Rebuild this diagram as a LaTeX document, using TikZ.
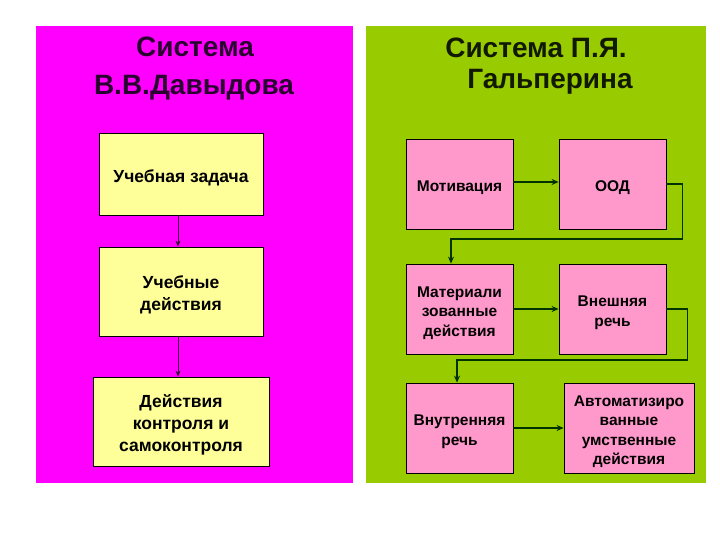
\documentclass[tikz,border=0pt]{standalone}
\usepackage{fontspec}
\setmainfont{Liberation Sans}
\usetikzlibrary{arrows.meta}
\definecolor{magbg}{HTML}{FF00FF}
\definecolor{grnbg}{HTML}{99CC00}
\definecolor{ylw}{HTML}{FFFF99}
\definecolor{pnk}{HTML}{FF99CC}
\definecolor{ttlL}{HTML}{2A0030}
\definecolor{ttlR}{HTML}{111A00}
\definecolor{arrL}{HTML}{330033}
\definecolor{arrR}{HTML}{003300}
\newcommand\tsL{\rule{0pt}{22pt}}
\newcommand\bsL{\rule[-5.4pt]{0pt}{5.4pt}}
\newcommand\tsR{\rule{0pt}{20pt}}
\newcommand\bsR{\rule[-5pt]{0pt}{5pt}}
\tikzset{
  ttl/.style={font=\bfseries\fontsize{28}{32}\selectfont, inner sep=0pt, anchor=center},
  ybox/.style={draw=black, line width=0.8pt, fill=ylw, align=center, inner sep=0pt,
    font=\bfseries\fontsize{17.5}{22}\selectfont},
  pbox/.style={draw=black, line width=0.8pt, fill=pnk, align=center, inner sep=0pt,
    minimum width=107pt, minimum height=90pt, font=\bfseries\fontsize{15.5}{19.5}\selectfont},
  larr/.style={draw=arrL, line width=0.7pt, -{Stealth[length=6pt,width=5pt]}},
  rarr/.style={draw=arrR, line width=1.6pt, -{Stealth[length=7pt,width=6pt]}}
}
\begin{document}
\begin{tikzpicture}[x=1pt,y=-1pt]
\useasboundingbox (0,0) rectangle (720,540);
\fill[white] (0,0) rectangle (720,540);
% panels
\fill[magbg] (36,26) rectangle (353,483);
\fill[grnbg] (366,26) rectangle (706,483);
% titles
\node[ttl, text=ttlL] (tl1) at (195,47) {Система};
\node[ttl, text=ttlL] (tl2) at (194,88) {В.В.Давыдова};
\node[ttl, text=ttlR] (tr1) at (536,48) {Система П.Я.};
\node[ttl, text=ttlR] (tr2) at (550,82) {Гальперина};
% left boxes
\node[ybox, minimum width=164pt, minimum height=82pt] (b1) at (181,174) {\tsL Учебная задача\bsL};
\node[ybox, minimum width=164pt, minimum height=89pt] (b2) at (181,291.5) {\tsL Учебные\\действия\bsL};
\node[ybox, minimum width=176pt, minimum height=89pt] (b3) at (181,421.5) {\tsL Действия\\контроля и\\самоконтроля\bsL};
\draw[larr] ([xshift=-3pt]b1.south) -- ([xshift=-3pt]b2.north);
\draw[larr] ([xshift=-3pt]b2.south) -- ([xshift=-3pt]b3.north);
% right boxes
\node[pbox] (r1) at (459.5,184) {\tsR Мотивация\bsR};
\node[pbox] (r2) at (612.5,184) {\tsR ООД\bsR};
\node[pbox] (r3) at (459.5,309) {\tsR Материали\\зованные\\действия\bsR};
\node[pbox] (r4) at (612.5,309) {\tsR Внешняя\\речь\bsR};
\node[pbox] (r5) at (459.5,428) {\tsR Внутренняя\\речь\bsR};
\node[pbox, minimum width=130pt] (r6) at (629,428) {\tsR Автоматизиро\\ванные\\умственные\\действия\bsR};
\draw[rarr] ([yshift=2pt]r1.east) -- ([yshift=2pt]r2.west);
\draw[rarr] (r2.east) -- ++(16,0) -- ++(0,55) -| ([xshift=-8.5pt]r3.north);
\draw[rarr] (r3.east) -- (r4.west);
\draw[rarr] (r4.east) -- ++(21,0) -- ++(0,51) -| ([xshift=-2.5pt]r5.north);
\draw[rarr] (r5.east) -- (r6.west);
\end{tikzpicture}
\end{document}
